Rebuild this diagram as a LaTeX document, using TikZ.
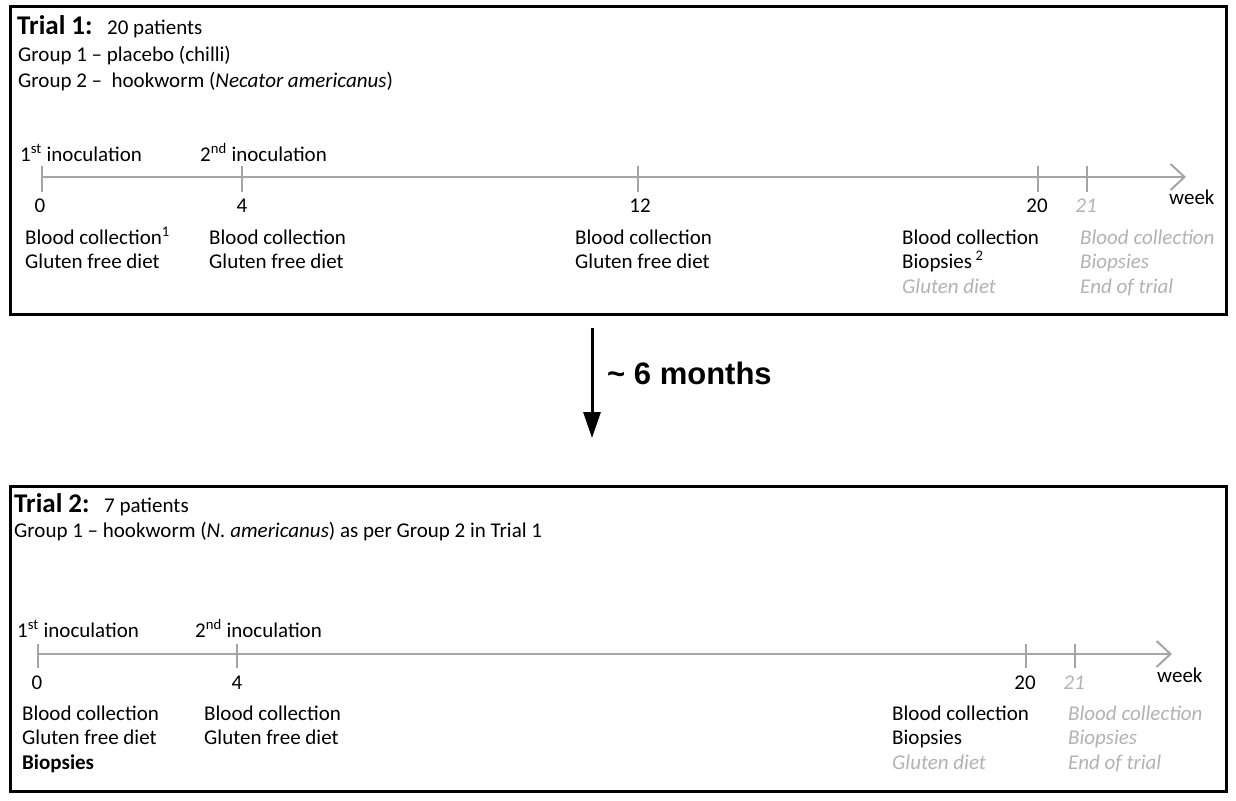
\documentclass[tikz,border=0pt]{standalone}
\usepackage{fontspec}
\setmainfont{Carlito}
\newfontfamily\arialfont{Liberation Sans}
\usepackage{tikz}
\usetikzlibrary{arrows.meta, positioning}
\definecolor{axisgrey}{RGB}{165,165,165}
\definecolor{textgrey}{RGB}{178,178,178}
\tikzstyle{frame} = [draw=black, line width=3pt, inner sep=0pt]
\tikzstyle{txt} = [anchor=base west, inner sep=0pt, font=\fontsize{21}{24.5}\selectfont]
\tikzstyle{trialtitle} = [anchor=base west, inner sep=0pt, font=\fontsize{27}{30}\selectfont\bfseries]
\tikzstyle{events} = [txt, align=left]
\tikzstyle{weeknum} = [anchor=base, inner sep=0pt, font=\fontsize{21}{24.5}\selectfont]
\tikzstyle{later} = [text=textgrey, font=\fontsize{21}{24.5}\selectfont\itshape]
\tikzstyle{timeline} = [draw=axisgrey, line width=2pt, -{Straight Barb[length=14pt, width=26pt]}]
\tikzstyle{weektick} = [draw=axisgrey, line width=1.5pt]
\tikzstyle{gap} = [draw=black, line width=3pt, -{Triangle[length=26pt, width=17pt]}]

\begin{document}
\begin{tikzpicture}[x=1pt, y=-1pt]
	\useasboundingbox (0, 0) rectangle (1236, 800);

	\node (Trial1Frame) [frame, minimum width=1216pt, minimum height=307.5pt] at (618, 160.25) {};
	\node (Trial1Title) [trialtitle] at (17, 35) {Trial 1:};
	\node (Trial1Size) [txt] at (107, 35) {20 patients};
	\node (Trial1Group1) [txt] at (18, 61) {Group 1 – placebo (chilli)};
	\node (Trial1Group2) [txt] at (18, 88) {Group 2 – \ hookworm (\textit{Necator americanus})};

	\coordinate (T1Start) at (42, 177);
	\coordinate (T1End) at (1186, 177);
	\draw[timeline] (T1Start) -- (T1End);
	\coordinate (T1W4) at (242, 177);
	\coordinate (T1W12) at (638, 177);
	\coordinate (T1W20) at (1038, 177);
	\coordinate (T1W21) at (1087, 177);
	\draw[weektick] ([yshift=11pt]T1Start) -- ([yshift=-15pt]T1Start);
	\draw[weektick] ([yshift=11pt]T1W4) -- ([yshift=-15pt]T1W4);
	\draw[weektick] ([yshift=11pt]T1W12) -- ([yshift=-15pt]T1W12);
	\draw[weektick] ([yshift=11pt]T1W20) -- ([yshift=-15pt]T1W20);
	\draw[weektick] ([yshift=11pt]T1W21) -- ([yshift=-15pt]T1W21);

	\node (T1Inoc1) [txt] at (20, 161) {1\textsuperscript{st} inoculation};
	\node (T1Inoc2) [txt] at (200, 161) {2\textsuperscript{nd} inoculation};

	\node (T1N0) [weeknum] at (40, 212) {0};
	\node (T1N4) [weeknum] at (242, 212) {4};
	\node (T1N12) [weeknum] at (640, 212) {12};
	\node (T1N20) [weeknum] at (1037, 212) {20};
	\node (T1N21) [weeknum, later] at (1086, 212) {21};
	\node (T1Week) [txt] at (1169, 204) {week};

	\node (T1E0) [events] at (25, 268.5) {Blood collection\textsuperscript{1}\\Gluten free diet};
	\node (T1E4) [events] at (209, 268.5) {Blood collection\\Gluten free diet};
	\node (T1E12) [events] at (575, 268.5) {Blood collection\\Gluten free diet};
	\node (T1E20) [events] at (902, 293) {Blood collection\\Biopsies\,\textsuperscript{2}\\{\color{textgrey}\itshape Gluten diet}};
	\node (T1E21) [events, later] at (1080, 293) {Blood collection\\Biopsies\\End of trial};

	\coordinate (GapTop) at (592, 328);
	\coordinate (GapEnd) at (592, 438);
	\draw[gap] (GapTop) -- (GapEnd);
	\node (GapText) [anchor=base west, inner sep=0pt, font=\arialfont\fontsize{31}{34}\selectfont\bfseries] at (607, 384) {\char`~\ 6 months};

	\node (Trial2Frame) [frame, minimum width=1216pt, minimum height=305pt] at (618, 638.5) {};
	\node (Trial2Title) [trialtitle] at (14, 512) {Trial 2:};
	\node (Trial2Size) [txt] at (104, 512) {7 patients};
	\node (Trial2Group1) [txt] at (14, 537) {Group 1 – hookworm (\textit{N. americanus}) as per Group 2 in Trial 1};

	\coordinate (T2Start) at (38, 654);
	\coordinate (T2End) at (1172, 654);
	\draw[timeline] (T2Start) -- (T2End);
	\coordinate (T2W4) at (237, 654);
	\coordinate (T2W20) at (1026, 654);
	\coordinate (T2W21) at (1075, 654);
	\draw[weektick] ([yshift=10pt]T2Start) -- ([yshift=-14pt]T2Start);
	\draw[weektick] ([yshift=10pt]T2W4) -- ([yshift=-14pt]T2W4);
	\draw[weektick] ([yshift=10pt]T2W20) -- ([yshift=-14pt]T2W20);
	\draw[weektick] ([yshift=10pt]T2W21) -- ([yshift=-14pt]T2W21);

	\node (T2Inoc1) [txt] at (17, 637) {1\textsuperscript{st} inoculation};
	\node (T2Inoc2) [txt] at (195, 637) {2\textsuperscript{nd} inoculation};

	\node (T2N0) [weeknum] at (37, 689) {0};
	\node (T2N4) [weeknum] at (237, 689) {4};
	\node (T2N20) [weeknum] at (1025, 689) {20};
	\node (T2N21) [weeknum, later] at (1074, 689) {21};
	\node (T2Week) [txt] at (1157, 682) {week};

	\node (T2E0) [events] at (22, 769) {Blood collection\\Gluten free diet\\\textbf{Biopsies}};
	\node (T2E4) [events] at (204, 744.5) {Blood collection\\Gluten free diet};
	\node (T2E20) [events] at (892, 769) {Blood collection\\Biopsies\\{\color{textgrey}\itshape Gluten diet}};
	\node (T2E21) [events, later] at (1068, 769) {Blood collection\\Biopsies\\End of trial};
\end{tikzpicture}
\end{document}
